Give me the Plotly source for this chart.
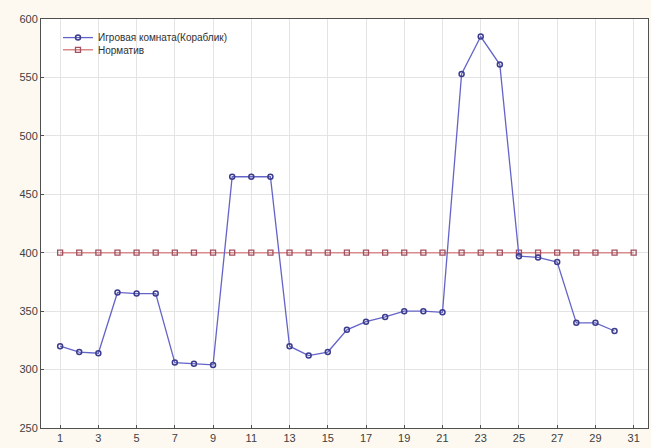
import plotly.graph_objects as go

days = list(range(1, 31))
room_values = [320, 315, 314, 366, 365, 365, 306, 305, 304, 465, 465, 465,
               320, 312, 315, 334, 341, 345, 350, 350, 349, 553, 585, 561,
               397, 396, 392, 340, 340, 333]
norm_days = list(range(1, 32))
norm_values = [400] * 31
room_name = "Игровая комната(Кораблик)"
norm_name = "Норматив"
x_ticks = list(range(1, 32, 2))
y_ticks = [250, 300, 350, 400, 450, 500, 550, 600]

fig = go.Figure()
fig.add_trace(go.Scatter(
    x=norm_days, y=norm_values, name=norm_name, mode="lines+markers",
    legend="legend2",
    line=dict(color="#d98a8a", width=1.5),
    marker=dict(symbol="square-open", size=5, color="#a05060", line=dict(width=1.3)),
))
fig.add_trace(go.Scatter(
    x=days, y=room_values, name=room_name, mode="lines+markers",
    legend="legend",
    line=dict(color="#6464c8", width=1.3),
    marker=dict(symbol="circle-open", size=5, color="#3c3c8c", line=dict(width=1.5)),
))

leg_common = dict(xanchor="left", yanchor="top", bgcolor="rgba(255,255,255,0)",
                  font=dict(size=10, color="#303030"), itemwidth=30,
                  borderwidth=0)
fig.update_layout(
    width=651, height=448,
    margin=dict(l=41, r=3, t=19, b=20, autoexpand=False),
    paper_bgcolor="#fdf9f1",
    plot_bgcolor="#ffffff",
    font=dict(family="Liberation Sans, Arial, sans-serif", size=11, color="#404040"),
    showlegend=True,
    legend=dict(x=0.028, y=0.99, **leg_common),
    legend2=dict(x=0.028, y=0.96, **leg_common),
)
fig.update_xaxes(
    range=[0, 31.75], tickvals=x_ticks, ticktext=[str(v) for v in x_ticks],
    showgrid=True, gridcolor="#e4e4e4", gridwidth=1, automargin=False,
    showline=True, linecolor="#505050", linewidth=1, mirror=True,
    ticks="inside", ticklen=3, tickcolor="#505050", zeroline=False,
)
fig.update_yaxes(
    range=[250, 600], tickvals=y_ticks, automargin=False,
    showgrid=True, gridcolor="#e4e4e4", gridwidth=1,
    showline=True, linecolor="#505050", linewidth=1, mirror=True,
    ticks="inside", ticklen=3, tickcolor="#505050", zeroline=False,
)

fig.write_html("out.html", config={"displayModeBar": False},
               post_script="document.body.style.margin='0';document.body.style.overflow='hidden';")
